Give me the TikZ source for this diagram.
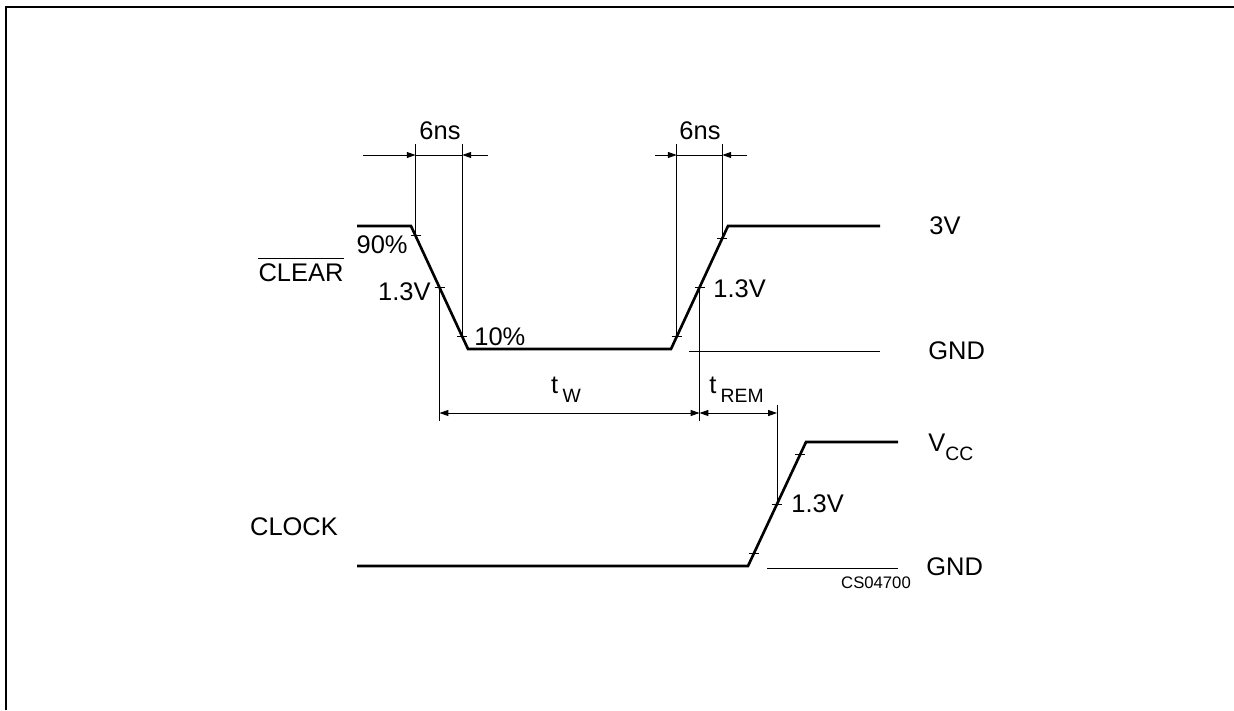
\documentclass[tikz,border=0pt]{standalone}
\usepackage{fontspec}
\setmainfont{Liberation Sans}
\usetikzlibrary{arrows.meta}

\newcommand{\lowsub}[1]{\raisebox{-5pt}{\fontsize{11}{12}\selectfont #1}}

\begin{document}
\begin{tikzpicture}[x=0.02cm,y=-0.02cm,
    signal/.style={line width=1.5pt},
    guide/.style={line width=0.5pt},
    dimline/.style={line width=0.5pt,{Triangle[length=5pt,width=3.4pt]}-{Triangle[length=5pt,width=3.4pt]}},
    dimhalf/.style={line width=0.5pt,-{Triangle[length=5pt,width=3.4pt]}},
    lbl/.style={font=\fontsize{14.5}{16}\selectfont,inner sep=0pt}]
    \useasboundingbox (0,0) rectangle (1234,710);

    % Frame
    \draw[line width=1.5pt] (6,710) -- (6,7) -- (1234,7);

    % Rows for the dimension lines
    \coordinate (dimtop) at (0,144);
    \coordinate (dimrow) at (0,155);
    \coordinate (trow) at (0,413);
    \coordinate (tbot) at (0,421);
    \coordinate (ktop) at (0,405);

    % CLEAR waveform
    \draw[signal] (357,226) -- (411,226)
        -- coordinate[pos=0.08] (f90) coordinate[pos=0.5] (f13) coordinate[pos=0.9] (f10) (468,349)
        -- (671,349)
        -- coordinate[pos=0.1] (r10) coordinate[pos=0.5] (r13) coordinate[pos=0.9] (r90) (728,226)
        -- (880,226);
    \draw[guide] (689,351) -- (880,351);

    % CLOCK waveform
    \draw[signal] (357,566) -- (748,566)
        -- coordinate[pos=0.1] (k10) coordinate[pos=0.5] (k13) coordinate[pos=0.9] (k90) (806,442)
        -- (898,442);
    \draw[guide] (767,568) -- (898,568);

    % Ticks on the edges
    \foreach \p in {f90,f13,f10,r10,r13,r90,k10,k13,k90}
        \draw[guide] (\p) ++(-5,0) -- ++(10,0);

    % 6ns guides and arrows
    \foreach \p in {f90,f10,r10,r90}
        \draw[guide] (\p) -- (\p |- dimtop);
    \coordinate (nsLa) at (363,155);
    \coordinate (nsLb) at (488,155);
    \coordinate (nsRa) at (655,155);
    \coordinate (nsRb) at (747,155);
    \draw[dimhalf] (nsLa) -- (f90 |- dimrow);
    \draw[guide] (f90 |- dimrow) -- (f10 |- dimrow);
    \draw[dimhalf] (nsLb) -- (f10 |- dimrow);
    \draw[dimhalf] (nsRa) -- (r10 |- dimrow);
    \draw[guide] (r10 |- dimrow) -- (r90 |- dimrow);
    \draw[dimhalf] (nsRb) -- (r90 |- dimrow);

    % tW and tREM
    \draw[guide] (f13) -- (f13 |- tbot);
    \draw[guide] (r13) -- (r13 |- tbot);
    \draw[guide] (k13) -- (k13 |- ktop);
    \draw[dimline] (f13 |- trow) -- (r13 |- trow);
    \draw[dimline] (r13 |- trow) -- (k13 |- trow);

    % Labels
    \node[lbl] (nsL) at (440,131) {6ns};
    \node[lbl] (nsR) at (700,131) {6ns};
    \node[lbl] (clr) at (301,273) {CLEAR};
    \draw[guide] ([yshift=3.2pt]clr.north west) -- ([yshift=3.2pt]clr.north east);
    \node[lbl] (clk) at (294,527) {CLOCK};
    \node[lbl,anchor=east] (p90) at (408,245) {90\%};
    \node[lbl,anchor=east] (v13a) at (431,292) {1.3V};
    \node[lbl,anchor=west] (p10) at (474,337) {10\%};
    \node[lbl,anchor=west] (v13b) at (713,289) {1.3V};
    \node[lbl,anchor=west] (v13c) at (791,504) {1.3V};
    \node[lbl,anchor=west] (v3) at (929,226) {3V};
    \node[lbl,anchor=west] (gnd1) at (928,351) {GND};
    \node[lbl,anchor=west] (gnd2) at (926,567) {GND};
    \node[lbl,anchor=west] (vcc) at (928,447) {V\lowsub{CC}};
    \node[lbl] (tw) at (566,390) {t\,\lowsub{W}};
    \node[lbl,anchor=west] (trem) at (709,390) {t\,\lowsub{REM}};
    \node[font=\fontsize{9.5}{10}\selectfont,inner sep=0pt] (code) at (876,583) {CS04700};
\end{tikzpicture}
\end{document}
